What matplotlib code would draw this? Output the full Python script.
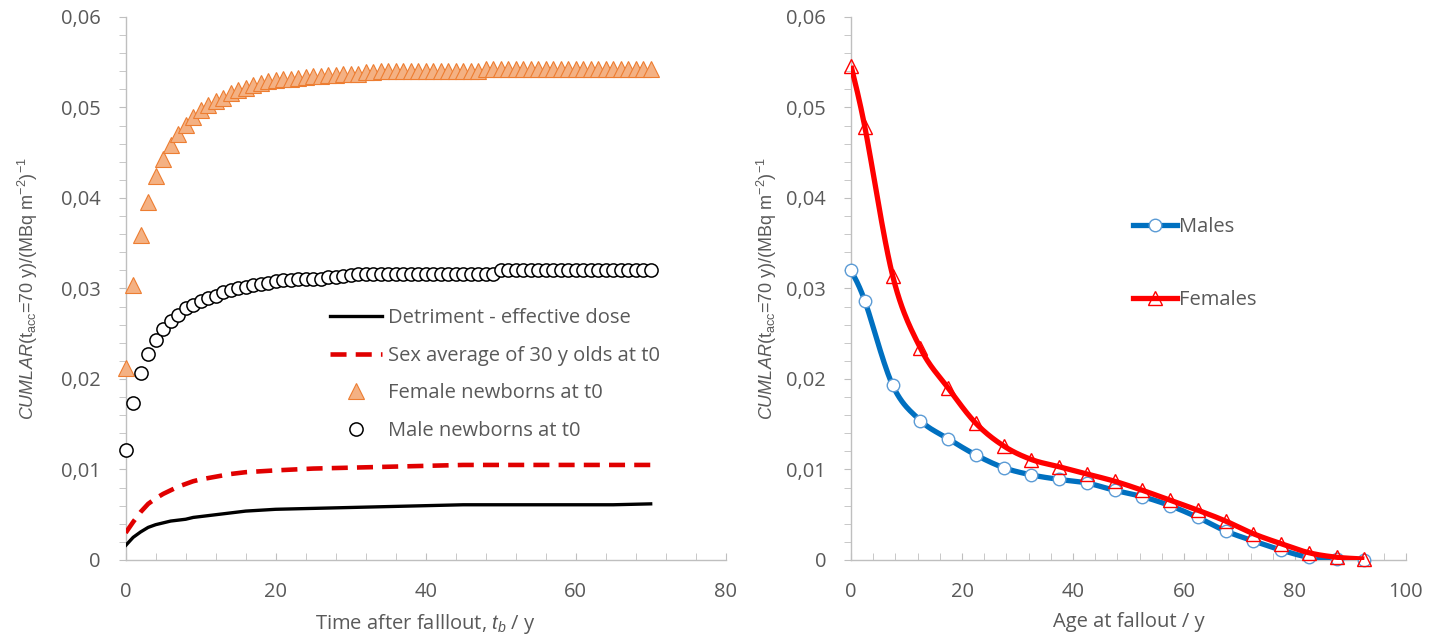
import numpy as np
import matplotlib
matplotlib.use('Agg')
import matplotlib.pyplot as plt
from matplotlib.lines import Line2D
from matplotlib.ticker import MultipleLocator, FuncFormatter

plt.rcParams['font.family'] = ['Open Sans', 'DejaVu Sans']
plt.rcParams['mathtext.fontset'] = 'custom'
plt.rcParams['mathtext.rm'] = 'Liberation Sans'
plt.rcParams['mathtext.it'] = 'Liberation Sans:italic'

# ---- left panel data: time after fallout (y) ----
t_years = list(range(71))
female_newborns = [
    0.0212, 0.0304, 0.0359, 0.0396, 0.0424, 0.0443, 0.0459, 0.0471, 0.0481, 0.0490,
    0.0497, 0.0503, 0.0507, 0.0511, 0.0516, 0.0519, 0.0522, 0.0525, 0.0527, 0.0529,
    0.0530, 0.0531, 0.0532, 0.0533, 0.0534, 0.0535, 0.0535, 0.0536, 0.0536, 0.0537,
    0.0537, 0.0537, 0.0539, 0.0539, 0.0540, 0.0540, 0.0540, 0.0540, 0.0540, 0.0540,
    0.0540, 0.0540, 0.0540, 0.0540, 0.0540, 0.0540, 0.0540, 0.0540, 0.0543, 0.0543,
    0.0543, 0.0543, 0.0543, 0.0543, 0.0543, 0.0543, 0.0543, 0.0543, 0.0543, 0.0543,
    0.0543, 0.0543, 0.0543, 0.0543, 0.0543, 0.0543, 0.0543, 0.0543, 0.0543, 0.0543,
    0.0543,
]
male_newborns = [
    0.0122, 0.0174, 0.0207, 0.0228, 0.0243, 0.0255, 0.0264, 0.0271, 0.0278, 0.0282,
    0.0286, 0.0290, 0.0292, 0.0296, 0.0298, 0.0300, 0.0302, 0.0304, 0.0305, 0.0306,
    0.0308, 0.0309, 0.0309, 0.0310, 0.0310, 0.0311, 0.0311, 0.0313, 0.0313, 0.0314,
    0.0315, 0.0316, 0.0316, 0.0316, 0.0316, 0.0316, 0.0316, 0.0316, 0.0316, 0.0316,
    0.0316, 0.0316, 0.0316, 0.0316, 0.0316, 0.0316, 0.0316, 0.0316, 0.0316, 0.0316,
    0.0320, 0.0320, 0.0320, 0.0320, 0.0320, 0.0320, 0.0320, 0.0320, 0.0320, 0.0320,
    0.0320, 0.0320, 0.0320, 0.0320, 0.0320, 0.0320, 0.0320, 0.0320, 0.0320, 0.0320,
    0.0320,
]
t_line = [0, 1, 2, 3, 4, 5, 6, 7, 8, 9, 10, 12, 14, 16, 18, 20, 25, 30, 35, 40, 45, 50, 55, 60, 65, 70]
detriment = [0.0016, 0.0025, 0.0031, 0.0036, 0.0039, 0.0041, 0.0043, 0.0044, 0.0045, 0.0047,
             0.0048, 0.0050, 0.0052, 0.0054, 0.0055, 0.0056, 0.0057, 0.0058, 0.0059, 0.0060,
             0.0061, 0.0061, 0.0061, 0.0061, 0.0061, 0.0062]
sex_avg_30y = [0.0030, 0.0042, 0.0053, 0.0062, 0.0068, 0.0073, 0.0077, 0.0081, 0.0084, 0.0087,
               0.0089, 0.0092, 0.0095, 0.0097, 0.0098, 0.0099, 0.0101, 0.0102, 0.0103, 0.0104,
               0.0105, 0.0105, 0.0105, 0.0105, 0.0105, 0.0105]

# ---- right panel data: age at fallout (y) ----
age = [0, 2.5, 7.5, 12.5, 17.5, 22.5, 27.5, 32.5, 37.5, 42.5, 47.5, 52.5, 57.5,
       62.5, 67.5, 72.5, 77.5, 82.5, 87.5, 92.5]
males = [0.0320, 0.0286, 0.0193, 0.0154, 0.0134, 0.0116, 0.0102, 0.0094, 0.0089, 0.0085,
         0.0077, 0.0070, 0.0060, 0.0047, 0.0032, 0.0021, 0.0011, 0.0003, 0.0001, 0.0000]
females = [0.0546, 0.0478, 0.0314, 0.0234, 0.0190, 0.0151, 0.0126, 0.0111, 0.0103, 0.0095,
           0.0087, 0.0077, 0.0066, 0.0055, 0.0043, 0.0029, 0.0018, 0.0008, 0.0003, 0.0001]

TXT = '#595959'
AXC = '#BFBFBF'


def smooth(x, y, n=24):
    # Catmull-Rom curve through the points (like Excel "smoothed line")
    P = np.column_stack([x, y]).astype(float)
    P = np.vstack([P[0], P, P[-1]])
    out = []
    for i in range(1, len(P) - 2):
        p0, p1, p2, p3 = P[i - 1], P[i], P[i + 1], P[i + 2]
        for s in np.linspace(0, 1, n, endpoint=False):
            s2, s3 = s * s, s * s * s
            out.append(0.5 * ((2 * p1) + (-p0 + p2) * s + (2 * p0 - 5 * p1 + 4 * p2 - p3) * s2
                              + (-p0 + 3 * p1 - 3 * p2 + p3) * s3))
    out.append(P[-2])
    out = np.array(out)
    return out[:, 0], out[:, 1]


def comma_fmt(v, pos):
    if abs(v) < 1e-12:
        return '0'
    return f'{v:.2f}'.replace('.', ',')


def style_axes(ax, xmax, xmajor):
    ax.set_xlim(0, xmax)
    ax.set_ylim(0, 0.06)
    ax.xaxis.set_major_locator(MultipleLocator(xmajor))
    ax.xaxis.set_minor_locator(MultipleLocator(xmajor / 5))
    ax.yaxis.set_major_locator(MultipleLocator(0.01))
    ax.yaxis.set_minor_locator(MultipleLocator(0.002))
    ax.yaxis.set_major_formatter(FuncFormatter(comma_fmt))
    for s in ['top', 'right']:
        ax.spines[s].set_visible(False)
    for s in ['left', 'bottom']:
        ax.spines[s].set_color(AXC)
        ax.spines[s].set_linewidth(1.0)
    ax.tick_params(axis='y', which='both', direction='out', length=5, color=AXC,
                   labelsize=14.5, labelcolor=TXT, pad=13)
    ax.tick_params(axis='x', which='both', direction='in', length=5, color=AXC,
                   labelsize=14.5, labelcolor=TXT, pad=16)


fig = plt.figure(figsize=(14.41, 6.38), dpi=100)
ax1 = fig.add_axes([0.0872, 0.1223, 0.4164, 0.8511])
ax2 = fig.add_axes([0.5906, 0.1223, 0.3851, 0.8511])

# ---- left panel ----
style_axes(ax1, 80, 20)
ax1.plot(t_line, detriment, color='black', lw=2.4, zorder=3)
ax1.plot(t_line, sex_avg_30y, color='#E00000', lw=3.3, ls=(0, (3.5, 2.0)), zorder=3)
ax1.plot(t_years, female_newborns, ls='none', marker='^', ms=11, mfc='#F4B183',
         mec='#ED7D31', mew=0.8, clip_on=False, zorder=4)
ax1.plot(t_years, male_newborns, ls='none', marker='o', ms=9.5, mfc='white',
         mec='black', mew=1.1, clip_on=False, zorder=4)
ax1.set_xlabel(r'Time after falllout, $\mathit{t_b}$ / y', fontsize=14.5, color=TXT, labelpad=7)

h1 = [
    Line2D([], [], color='black', lw=2.4),
    Line2D([], [], color='#E00000', lw=3.3, ls=(0, (3.5, 2.0))),
    Line2D([], [], ls='none', marker='^', ms=11, mfc='#F4B183', mec='#ED7D31', mew=0.8),
    Line2D([], [], ls='none', marker='o', ms=9.5, mfc='white', mec='black', mew=1.1),
]
l1 = ['Detriment - effective dose', 'Sex average of 30 y olds at t0',
      'Female newborns at t0', 'Male newborns at t0']
leg1 = ax1.legend(h1, l1, loc='upper left', bbox_to_anchor=(330 / 1441, 1 - 308 / 638),
                  bbox_transform=fig.transFigure, frameon=False, fontsize=14.5,
                  handlelength=2.6, handletextpad=0.3, labelspacing=0.88,
                  borderpad=0, borderaxespad=0)
for txt in leg1.get_texts():
    txt.set_color(TXT)

# ---- right panel ----
style_axes(ax2, 100, 20)
xm, ym = smooth(age, males)
xf, yf = smooth(age, females)
ax2.plot(xm, ym, color='#0070C0', lw=3.8, zorder=3, solid_capstyle='butt')
ax2.plot(age, males, ls='none', marker='o', ms=9, mfc='white', mec='#5B9BD5',
         mew=1.0, clip_on=False, zorder=4)
ax2.plot(xf, yf, color='#FF0000', lw=3.8, zorder=5, solid_capstyle='butt')
ax2.plot(age, females, ls='none', marker='^', ms=10.5, mfc='none', mec='#FF0000',
         mew=1.0, clip_on=False, zorder=6)
ax2.set_xlabel('Age at fallout / y', fontsize=14.5, color=TXT, labelpad=7)

h2 = [
    Line2D([], [], color='#0070C0', lw=3.8, marker='o', ms=9, mfc='white', mec='#5B9BD5', mew=1.0),
    Line2D([], [], color='#FF0000', lw=3.8, marker='^', ms=10.5, mfc='none', mec='#FF0000', mew=1.0),
]
leg2 = ax2.legend(h2, ['Males', 'Females'], loc='upper left',
                  bbox_to_anchor=(1133 / 1441, 1 - 217 / 638), bbox_transform=fig.transFigure,
                  frameon=False, fontsize=14.5, handlelength=2.2, handletextpad=0.1,
                  labelspacing=2.65, borderpad=0, borderaxespad=0)
for txt in leg2.get_texts():
    txt.set_color(TXT)

# ---- y labels ----
ylab = r'$\mathit{CUMLAR}$(t$_{\mathrm{acc}}$=70 y)/(MBq m$^{-2}$)$^{-1}$'
ymid = 0.1223 + 0.8511 / 2
fig.text(28 / 1441, ymid, ylab, rotation=90, ha='center', va='center',
         fontsize=13, color=TXT, family='Liberation Sans')
fig.text(767 / 1441, ymid, ylab, rotation=90, ha='center', va='center',
         fontsize=13, color=TXT, family='Liberation Sans')

fig.savefig('out.png', dpi=100, facecolor='white')
